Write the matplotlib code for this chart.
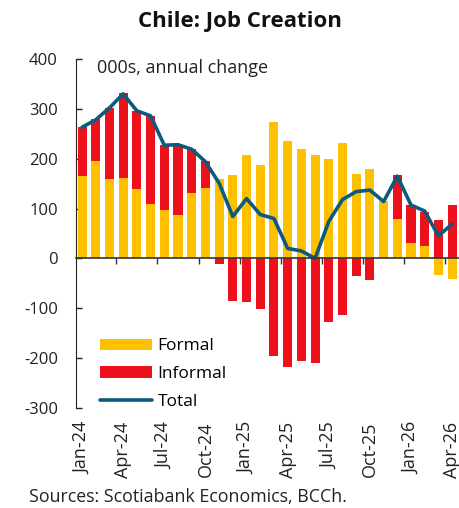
import matplotlib.pyplot as plt
import numpy as np

months = ['Jan-24', 'Feb-24', 'Mar-24', 'Apr-24', 'May-24', 'Jun-24', 'Jul-24',
          'Aug-24', 'Sep-24', 'Oct-24', 'Nov-24', 'Dec-24', 'Jan-25', 'Feb-25',
          'Mar-25', 'Apr-25', 'May-25', 'Jun-25', 'Jul-25', 'Aug-25', 'Sep-25',
          'Oct-25', 'Nov-25', 'Dec-25', 'Jan-26', 'Feb-26', 'Mar-26', 'Apr-26']
formal = [166, 196, 159, 161, 139, 109, 97, 88, 132, 141, 159, 167, 207, 187,
          274, 236, 219, 207, 199, 231, 170, 179, 115, 79, 31, 24, -33, -41]
informal = [98, 83, 143, 171, 157, 177, 130, 138, 88, 54, -12, -85, -88, -101,
            -195, -217, -205, -209, -127, -114, -36, -43, 0, 88, 77, 70, 78, 107]
total = [263, 278, 302, 330, 296, 286, 227, 228, 219, 194, 151, 84, 120, 88,
         80, 20, 15, 0, 74, 118, 134, 137, 114, 165, 107, 95, 45, 69]

yellow = '#FFC000'
red = '#EC111A'
blue = '#0C5A7E'
ink = '#222222'

plt.rcParams['font.family'] = ['Open Sans', 'DejaVu Sans']
plt.rcParams['axes.unicode_minus'] = False

fig = plt.figure(figsize=(4.59, 5.08), dpi=100)
ax = fig.add_axes([0.1656, 0.1969, 0.8344, 0.687])

x = np.arange(len(months))
f = np.array(formal)
inf = np.array(informal)
# informal stacks on formal when both have the same sign, otherwise starts at 0
base = np.where(np.sign(f) == np.sign(inf), f, 0)

b1 = ax.bar(x, f, width=0.66, color=yellow, label='Formal', zorder=2)
b2 = ax.bar(x, inf, width=0.66, bottom=base, color=red, label='Informal', zorder=2)
ln, = ax.plot(x, total, color=blue, linewidth=2.6, label='Total', zorder=3,
              solid_capstyle='round')

ax.set_xlim(-0.44, 27.5)
ax.set_ylim(-300, 400)
ax.set_yticks(range(-300, 401, 100))
ax.tick_params(axis='y', direction='in', length=4, labelsize=12, colors=ink,
               width=1, pad=13)

for s in ['top', 'right']:
    ax.spines[s].set_visible(False)
ax.spines['left'].set_color(ink)
ax.spines['bottom'].set_position(('data', 0))
ax.spines['bottom'].set_color('#333333')
ax.spines['bottom'].set_linewidth(1.2)
ax.spines['bottom'].set_zorder(4)
ax.set_xticks(np.arange(2.5, 27, 3))
ax.set_xticklabels([])
ax.tick_params(axis='x', direction='out', length=4, width=1, colors='#333333')

sec = ax.secondary_xaxis(0)
sec.set_xticks(x[::3])
sec.set_xticklabels(months[::3], rotation=90, fontsize=13, color=ink)
sec.tick_params(length=0, pad=10)
sec.spines['bottom'].set_visible(False)

ax.text(0.055, 0.974, '000s, annual change', transform=ax.transAxes,
        fontsize=13, color=ink, va='center')

ax.legend([b1, b2, ln], ['Formal', 'Informal', 'Total'], loc='lower left',
          bbox_to_anchor=(0.063, -0.005), frameon=False, fontsize=12.5,
          handlelength=3.0, handleheight=0.65, labelspacing=0.67,
          handletextpad=0.3, borderaxespad=0, borderpad=0)

fig.text(0.522, 0.957, 'Chile: Job Creation', ha='center', va='center',
         fontsize=16, fontweight='bold', color='#111111')
fig.text(0.063, 0.022, 'Sources: Scotiabank Economics, BCCh.', fontsize=12.8,
         color=ink, va='center')

fig.savefig('out.png', dpi=100)
